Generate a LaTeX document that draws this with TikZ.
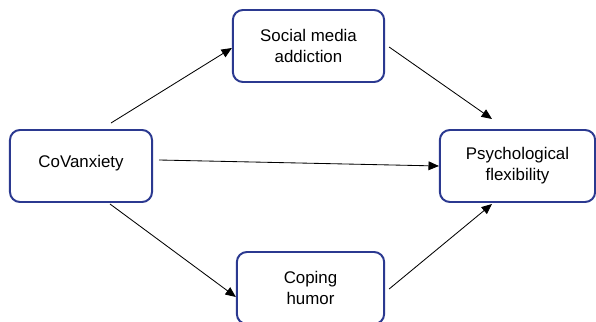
\documentclass[tikz,border=0pt]{standalone}
\usepackage{fontspec}
\setmainfont{Liberation Sans}
\usetikzlibrary{arrows.meta}
\definecolor{boxblue}{HTML}{2B3990}
\tikzset{varbox/.style={draw=boxblue,line width=1.4pt,rounded corners=0.25cm,fill=white,
		align=center,inner sep=0pt,minimum height=1.8cm,font=\fontsize{12}{15}\selectfont},
	arr/.style={line width=0.6pt,-{Triangle[length=2.6mm,width=2.2mm]}}}

\begin{document}
\begin{tikzpicture}[x=0.025cm,y=-0.025cm]
				      \useasboundingbox (0,0) rectangle (596,321);
				      \node[varbox,minimum width=3.55cm] (cov) at (81,166) {CoVanxiety\\[-8pt]};
				      \node[varbox,minimum width=3.78cm] (soc) at (308.5,46) {Social media\\addiction};
				      \node[varbox,minimum width=3.88cm] (psy) at (517.5,166) {Psychological\\flexibility};
				      \node[varbox,minimum width=3.68cm] (cop) at (310.5,288) {Coping\\humor};

				      \path [arr]([shift={(30,-6)}]cov.north) edge ([shift={(0,2)}]soc.west);
				      \path [arr]([shift={(4,1)}]soc.east) edge ([shift={(-25.5,-10)}]psy.north);
				      \path [arr]([shift={(6,-6)}]cov.east) edge (psy.west);
				      \path [arr]([shift={(29,1)}]cov.south) edge ([shift={(0,9)}]cop.west);
				      \path [arr]([shift={(4,1)}]cop.east) edge ([shift={(-25.5,1)}]psy.south);
			      \end{tikzpicture}
\end{document}
